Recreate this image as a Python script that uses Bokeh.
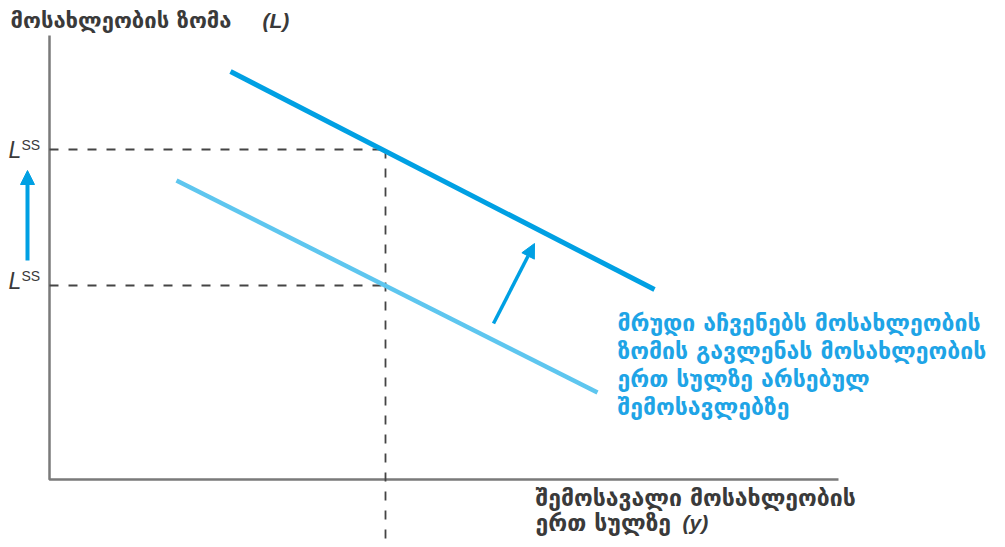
from bokeh.plotting import figure
from bokeh.models import Range1d, Arrow, NormalHead
from bokeh.core.properties import value
from bokeh.embed import file_html
from bokeh.resources import INLINE

# ---- data (abstract units; origin at the axes' corner) ----
x_axis_end = 7.89
y_axis_end = 4.44
old_curve_x = [1.27, 5.48]
old_curve_y = [2.99, 0.87]
new_curve_x = [1.81, 6.05]
new_curve_y = [4.08, 1.90]
x_star = 3.36
L_old = 1.94
L_new = 3.30
shift_arrow = [4.44, 1.56, 4.85, 2.36]   # x0, y0, x1, y1
level_arrow = [-0.22, 2.19, -0.22, 3.09]

title_text = "მოსახლეობის ზომა"
xlabel_lines = ["შემოსავალი მოსახლეობის", "ერთ სულზე"]
note_lines = ["მრუდი აჩვენებს მოსახლეობის",
              "ზომის გავლენას მოსახლეობის",
              "ერთ სულზე არსებულ",
              "შემოსავლებზე"]

DARK = "#3a3a3a"
AXIS = "#7a7a7a"
BLUE_NEW = "#00a0e3"
BLUE_OLD = "#5ec6ef"
NOTE = "#1ea4e6"
GEO_FONT = value("DejaVu Sans")
LAT_FONT = value("Liberation Sans")

p = figure(width=1005, height=547, output_backend="svg", toolbar_location=None,
           x_range=Range1d(-0.49, 9.56), y_range=Range1d(-0.68, 4.79),
           min_border=0)
p.axis.visible = False
p.grid.visible = False
p.outline_line_color = None

# axes
p.line([0, 0, x_axis_end], [y_axis_end, 0, 0], line_color=AXIS, line_width=2.5)

# dashed guides
p.line([0, x_star], [L_new, L_new], line_color="#444444", line_width=1.8, line_dash="9 10")
p.line([0, x_star], [L_old, L_old], line_color="#444444", line_width=1.8, line_dash="9 10")
p.line([x_star, x_star], [L_new, -0.64], line_color="#444444", line_width=1.8, line_dash="9 10")

# curves
p.line(old_curve_x, old_curve_y, line_color=BLUE_OLD, line_width=4.5)
p.line(new_curve_x, new_curve_y, line_color=BLUE_NEW, line_width=5)

# arrows
for a, lw in ((shift_arrow, 3.5), (level_arrow, 4)):
    p.add_layout(Arrow(end=NormalHead(size=14, fill_color=BLUE_NEW, line_color=BLUE_NEW),
                       x_start=a[0], y_start=a[1], x_end=a[2], y_end=a[3],
                       line_color=BLUE_NEW, line_width=lw))

# title
p.text(x=[-0.39], y=[4.59], text=[title_text], text_font=GEO_FONT, text_font_style="bold",
       text_font_size="22px", text_color=DARK, text_baseline="middle", text_align="left")
p.text(x=[2.13], y=[4.59], text=["(L)"], text_font=LAT_FONT,
       text_font_style="bold italic", text_font_size="21px", text_color=DARK,
       text_baseline="middle", text_align="left")

# L^SS labels
p.text(x=[-0.41, -0.41], y=[L_new, 1.99], text=["L", "L"], text_font=LAT_FONT,
       text_font_style="italic", text_font_size="23px", text_color=DARK,
       text_baseline="middle", text_align="left")
p.text(x=[-0.28, -0.28], y=[L_new + 0.05, 2.04], text=["SS", "SS"], text_font=LAT_FONT,
       text_font_size="14px", text_color=DARK, text_baseline="middle", text_align="left")

# x label
p.text(x=[4.86, 4.86], y=[-0.18, -0.43], text=xlabel_lines, text_font=GEO_FONT,
       text_font_style="bold", text_font_size="23px", text_color=DARK,
       text_baseline="middle", text_align="left")
p.text(x=[6.33], y=[-0.43], text=["(y)"], text_font=LAT_FONT,
       text_font_style="bold italic", text_font_size="21px", text_color=DARK,
       text_baseline="middle", text_align="left")

# note
p.text(x=[5.68] * 4, y=[1.57, 1.29, 1.01, 0.73], text=note_lines, text_font=GEO_FONT,
       text_font_style="bold", text_font_size="23px", text_color=NOTE,
       text_baseline="middle", text_align="left")

open("out.html", "w").write(file_html(p, INLINE))
